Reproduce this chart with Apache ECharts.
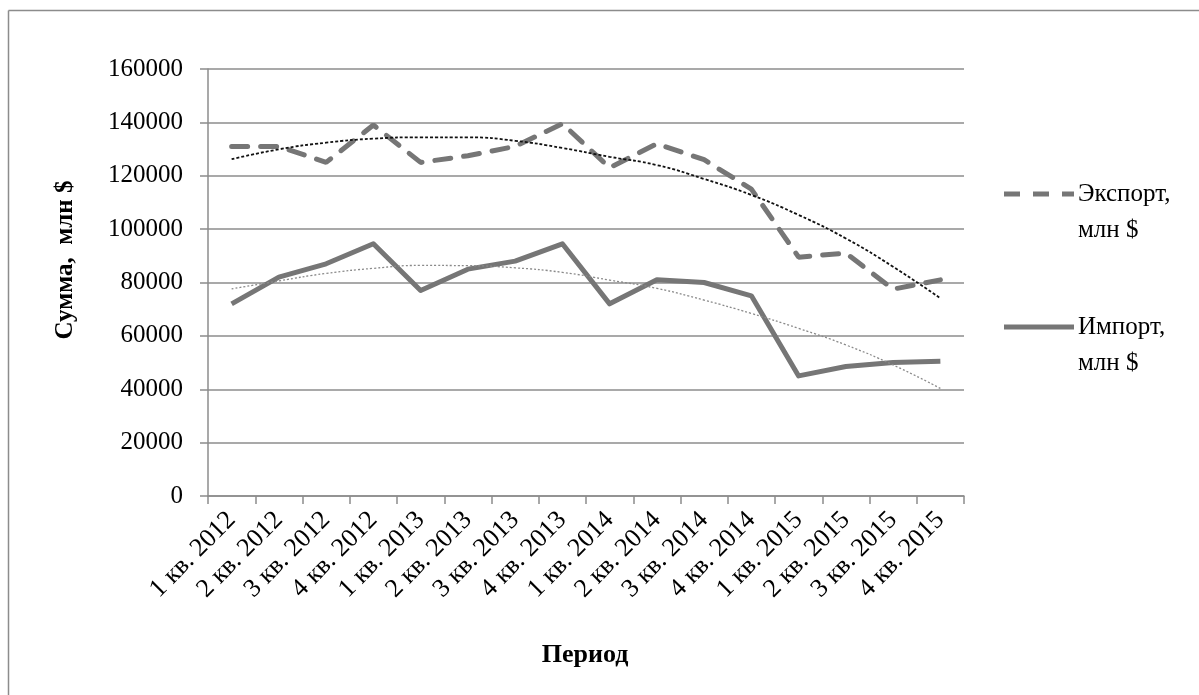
<!DOCTYPE html>
<html>
<head>
<meta charset="utf-8">
<script src="https://cdn.jsdelivr.net/npm/echarts@6/dist/echarts.min.js"></script>
<style>
  html, body { margin: 0; padding: 0; background: #fff; }
  #chart { width: 1199px; height: 695px; }
</style>
</head>
<body>
<div id="chart"></div>
<script>
// Quarters on the category axis
const periods = [
  '1 кв. 2012', '2 кв. 2012', '3 кв. 2012', '4 кв. 2012',
  '1 кв. 2013', '2 кв. 2013', '3 кв. 2013', '4 кв. 2013',
  '1 кв. 2014', '2 кв. 2014', '3 кв. 2014', '4 кв. 2014',
  '1 кв. 2015', '2 кв. 2015', '3 кв. 2015', '4 кв. 2015'
];

// Export and import, million $
const exportValues = [131000, 131000, 125000, 139000, 125000, 127500, 131000, 139500,
                      123000, 132000, 126000, 115000, 89500, 91000, 77500, 81000];
const importValues = [72000, 82000, 87000, 94500, 77000, 85000, 88000, 94500,
                      72000, 81000, 80000, 75000, 45000, 48500, 50000, 50500];

// Polynomial trend lines (values at each quarter)
const exportTrend = [126200, 129900, 132400, 133900, 134400, 134400, 133100, 130400,
                     127100, 124000, 118800, 112800, 105300, 96500, 85900, 74100];
const importTrend = [77600, 80600, 83400, 85300, 86400, 86300, 85500, 83800,
                     80900, 77800, 73400, 68400, 62800, 56600, 49100, 40300];

// Value axis ticks
const yTicks = [0, 20000, 40000, 60000, 80000, 100000, 120000, 140000, 160000];

const seriesNames = ['Экспорт, млн $', 'Импорт, млн $'];

const FONT = '"Liberation Serif", "DejaVu Serif", serif';
const LINE_GRAY = '#767676';
const AXIS_GRAY = '#8c8c8c';

const chart = echarts.init(document.getElementById('chart'), null, { renderer: 'canvas' });

chart.setOption({
  backgroundColor: '#ffffff',
  animation: false,
  grid: { left: 208, right: 235, top: 69, bottom: 199, containLabel: false },
  xAxis: {
    type: 'category',
    data: periods,
    boundaryGap: true,
    axisLine: { show: true, lineStyle: { color: AXIS_GRAY, width: 1.5 } },
    axisTick: { show: true, length: 8, lineStyle: { color: AXIS_GRAY, width: 1.5 } },
    axisLabel: {
      rotate: 45, margin: 20, interval: 0,
      fontFamily: FONT, fontSize: 26, color: '#000'
    },
    splitLine: { show: false }
  },
  yAxis: {
    type: 'value',
    min: yTicks[0],
    max: yTicks[yTicks.length - 1],
    interval: yTicks[1] - yTicks[0],
    axisLine: { show: true, lineStyle: { color: AXIS_GRAY, width: 1.5 } },
    axisTick: { show: true, length: 8, lineStyle: { color: AXIS_GRAY, width: 1.5 } },
    axisLabel: {
      margin: 25, fontFamily: FONT, fontSize: 25, color: '#000',
      formatter: (v) => String(v)
    },
    splitLine: { show: true, lineStyle: { color: AXIS_GRAY, width: 1.5 } }
  },
  series: [
    {
      name: seriesNames[0], type: 'line', data: exportValues,
      symbol: 'none', z: 3,
      lineStyle: { color: LINE_GRAY, width: 5, type: [16, 13], cap: 'round' }
    },
    {
      name: seriesNames[1], type: 'line', data: importValues,
      symbol: 'none', z: 3,
      lineStyle: { color: LINE_GRAY, width: 5, join: 'round' }
    },
    {
      name: 'trend-export', type: 'line', data: exportTrend, smooth: true,
      symbol: 'none', z: 4, silent: true,
      lineStyle: { color: '#111', width: 1.8, type: [3, 2] }
    },
    {
      name: 'trend-import', type: 'line', data: importTrend, smooth: true,
      symbol: 'none', z: 4, silent: true,
      lineStyle: { color: '#8a8a8a', width: 1.3, type: [2, 2] }
    }
  ],
  graphic: [
    // frame
    { type: 'line', shape: { x1: 8.5, y1: 10.5, x2: 1199, y2: 10.5 }, style: { stroke: AXIS_GRAY, lineWidth: 1.5 } },
    { type: 'line', shape: { x1: 8.5, y1: 10.5, x2: 8.5, y2: 695 }, style: { stroke: AXIS_GRAY, lineWidth: 1.5 } },
    // axis titles
    {
      type: 'text', x: 66, y: 260, rotation: Math.PI / 2,
      style: { text: 'Сумма,  млн $', font: 'bold 25px ' + FONT, fill: '#000', align: 'center', verticalAlign: 'middle' }
    },
    {
      type: 'text', x: 585, y: 655,
      style: { text: 'Период', font: 'bold 26px ' + FONT, fill: '#000', align: 'center', verticalAlign: 'middle' }
    },
    // legend: export
    { type: 'line', shape: { x1: 1004, y1: 194, x2: 1074, y2: 194 },
      style: { stroke: LINE_GRAY, lineWidth: 5, lineDash: [16, 13] } },
    { type: 'text', x: 1078, y: 194,
      style: { text: 'Экспорт,', font: '25px ' + FONT, fill: '#000', verticalAlign: 'middle' } },
    { type: 'text', x: 1078, y: 230,
      style: { text: 'млн $', font: '25px ' + FONT, fill: '#000', verticalAlign: 'middle' } },
    // legend: import
    { type: 'line', shape: { x1: 1004, y1: 327, x2: 1074, y2: 327 },
      style: { stroke: LINE_GRAY, lineWidth: 5 } },
    { type: 'text', x: 1078, y: 327,
      style: { text: 'Импорт,', font: '25px ' + FONT, fill: '#000', verticalAlign: 'middle' } },
    { type: 'text', x: 1078, y: 363,
      style: { text: 'млн $', font: '25px ' + FONT, fill: '#000', verticalAlign: 'middle' } }
  ]
});
</script>
</body>
</html>
